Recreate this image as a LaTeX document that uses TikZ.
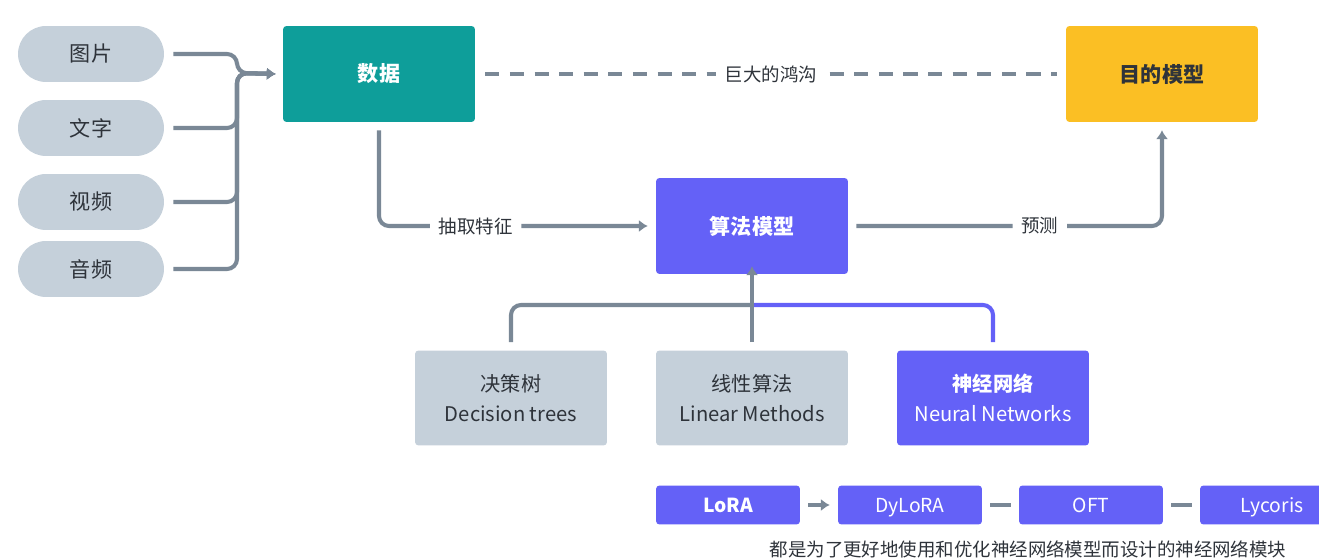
\documentclass[tikz,border=0pt]{standalone}
\usepackage{fontspec}
\setmainfont{Noto Sans CJK SC}
\usetikzlibrary{arrows.meta}

\definecolor{pillgray}{HTML}{C5D0DA}
\definecolor{linegray}{HTML}{7A8896}
\definecolor{datateal}{HTML}{0E9E9A}
\definecolor{goalyellow}{HTML}{FBBF24}
\definecolor{algopurple}{HTML}{6461F7}
\definecolor{textdark}{HTML}{2E333A}

\tikzset{
  pill/.style={rectangle, rounded corners=0.56cm, fill=pillgray, minimum width=2.92cm, minimum height=1.12cm, font=\fontsize{12}{14}\selectfont, text=textdark},
  bigbox/.style={rectangle, rounded corners=2pt, minimum width=3.84cm, minimum height=1.92cm, font=\fontsize{12}{14}\selectfont\bfseries},
  methodbox/.style={rectangle, rounded corners=2pt, minimum width=3.84cm, minimum height=1.9cm, align=center, font=\fontsize{11.5}{17}\selectfont},
  smallbox/.style={rectangle, rounded corners=2pt, fill=algopurple, text=white, minimum width=2.88cm, minimum height=0.78cm, text height=9.5pt, text depth=0.5pt, font=\fontsize{11}{13}\selectfont},
  conn/.style={draw=linegray, line width=2.3pt, rounded corners=0.2cm},
  tip/.style={-{Latex[length=5pt,width=7pt]}},
  edgelabel/.style={fill=white, text=textdark, inner xsep=5pt, inner ysep=2pt, font=\fontsize{10.5}{12}\selectfont}
}

\begin{document}
\begin{tikzpicture}[x=0.02cm, y=-0.02cm]

    \useasboundingbox (0,0) rectangle (1319,560);

    % Inputs
    \foreach \name/\txt/\y in {img/图片/54, txt/文字/128, vid/视频/202, aud/音频/269} {
        \node[pill] (\name) at (91,\y) {\txt};
    }

    % Main boxes
    \node[bigbox, fill=datateal, text=white] (data) at (379,74) {数据};
    \node[bigbox, fill=goalyellow, text=textdark] (goal) at (1162,74) {目的模型};
    \node[bigbox, fill=algopurple, text=white] (algo) at (752,226) {算法模型};

    % Methods
    \node[methodbox, fill=pillgray, text=textdark] (tree) at (511,398) {决策树\\Decision trees};
    \node[methodbox, fill=pillgray, text=textdark] (linear) at (752,398) {线性算法\\Linear Methods};
    \node[methodbox, fill=algopurple, text=white] (neural) at (993,398) {\textbf{神经网络}\\Neural Networks};

    % Modules
    \node[smallbox, font=\fontsize{11}{13}\selectfont\bfseries] (lora) at (728,505) {LoRA};
    \node[smallbox] (dylora) at (910,505) {DyLoRA};
    \node[smallbox] (oft) at (1091,505) {OFT};
    \node[smallbox] (lycoris) at (1272,505) {Lycoris};

    \node[text=textdark, font=\fontsize{10.5}{12}\selectfont] (note) at (1028,549)
        {都是为了更好地使用和优化神经网络模型而设计的神经网络模块};

    % Input bus
    \coordinate (bus) at (237,73);
    \foreach \name in {img, txt, vid, aud} {
        \draw[conn, tip] ([xshift=0.18cm]\name.east) -| (bus) -- ([xshift=-0.14cm]data.west);
    }

    % Gap between data and goal
    \draw[draw=linegray, line width=2.3pt, dash pattern=on 8pt off 6pt]
        ([xshift=0.2cm]data.east) -- node[edgelabel] {巨大的鸿沟} ([xshift=-0.18cm]goal.west);

    % Data -> algorithm -> goal
    \draw[conn, tip] ([yshift=-0.16cm]data.south) |- node[edgelabel, pos=0.68] {抽取特征} ([xshift=-0.16cm]algo.west);
    \draw[conn, tip] ([xshift=0.16cm]algo.east) -| node[edgelabel, pos=0.3] {预测} ([yshift=-0.16cm]goal.south);

    % Methods -> algorithm
    \coordinate (join) at (752,305);
    \draw[conn] ([yshift=0.16cm]tree.north) |- (join);
    \draw[conn, draw=algopurple] ([yshift=0.16cm]neural.north) |- (join);
    \draw[conn, tip] ([yshift=0.16cm]linear.north) -- ([yshift=0.16cm]algo.south);

    % Module chain
    \draw[conn, tip] ([xshift=0.16cm]lora.east) -- ([xshift=-0.16cm]dylora.west);
    \draw[conn] ([xshift=0.16cm]dylora.east) -- ([xshift=-0.16cm]oft.west);
    \draw[conn] ([xshift=0.16cm]oft.east) -- ([xshift=-0.16cm]lycoris.west);

\end{tikzpicture}
\end{document}
